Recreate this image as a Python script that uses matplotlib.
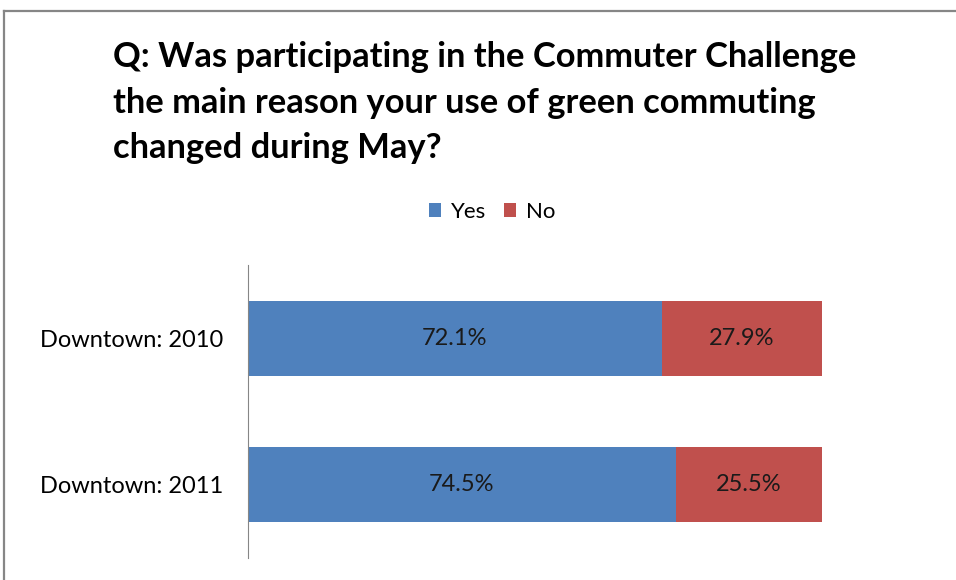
import matplotlib.pyplot as plt
from matplotlib.lines import Line2D

# survey answers, percent of respondents
categories = ["Downtown: 2010", "Downtown: 2011"]
yes_pct = [72.1, 74.5]
no_pct = [27.9, 25.5]
series_names = ["Yes", "No"]
title_lines = [
    "Q: Was participating in the Commuter Challenge",
    "the main reason your use of green commuting",
    "changed during May?",
]

BLUE = "#4F81BD"
RED = "#C0504D"
GREY = "#868686"

plt.rcParams["font.family"] = ["Lato", "DejaVu Sans"]

W, H = 956, 580
fig = plt.figure(figsize=(W / 100, H / 100), dpi=100)

# chart area frame (runs off the right and bottom edges)
fig.add_artist(Line2D([4 / W, 4 / W], [0, 1 - 11 / H], color=GREY, lw=1.6,
                      transform=fig.transFigure))
fig.add_artist(Line2D([4 / W, 1], [1 - 11 / H, 1 - 11 / H], color=GREY, lw=1.6,
                      transform=fig.transFigure))

# title, three lines left aligned
for line, yb in zip(title_lines, [67, 113, 158]):
    fig.text(113 / W, 1 - yb / H, line, fontsize=24.8, fontweight="bold",
             ha="left", va="baseline", color="black")

ax = fig.add_axes([248 / W, 1 - 558 / H, 574 / W, 293 / H])
ypos = list(range(len(categories)))
bar_h = 0.51

b1 = ax.barh(ypos, yes_pct, height=bar_h, color=BLUE, label=series_names[0])
b2 = ax.barh(ypos, no_pct, left=yes_pct, height=bar_h, color=RED,
             label=series_names[1])

for bars, vals in [(b1, yes_pct), (b2, no_pct)]:
    for rect, v in zip(bars, vals):
        ax.text(rect.get_x() + rect.get_width() / 2,
                rect.get_y() + rect.get_height() / 2,
                f"{v:.1f}%", ha="center", va="center", fontsize=17,
                color="#1a1a1a")

ax.set_xlim(0, 100)
ax.set_ylim(len(categories) - 0.5, -0.5)
ax.set_yticks(ypos)
ax.set_yticklabels(categories, fontsize=17)
ax.tick_params(axis="y", length=0, pad=18)
ax.set_xticks([])
for s in ["top", "right", "bottom"]:
    ax.spines[s].set_visible(False)
ax.spines["left"].set_color(GREY)
ax.spines["left"].set_linewidth(0.8)

fig.legend(handles=[b1, b2], loc="center", bbox_to_anchor=(492 / W, 1 - 212 / H),
           ncol=2, frameon=False, fontsize=16, handlelength=0.55,
           handleheight=0.6, handletextpad=0.45, columnspacing=0.8)

fig.savefig("out.png", dpi=100)
